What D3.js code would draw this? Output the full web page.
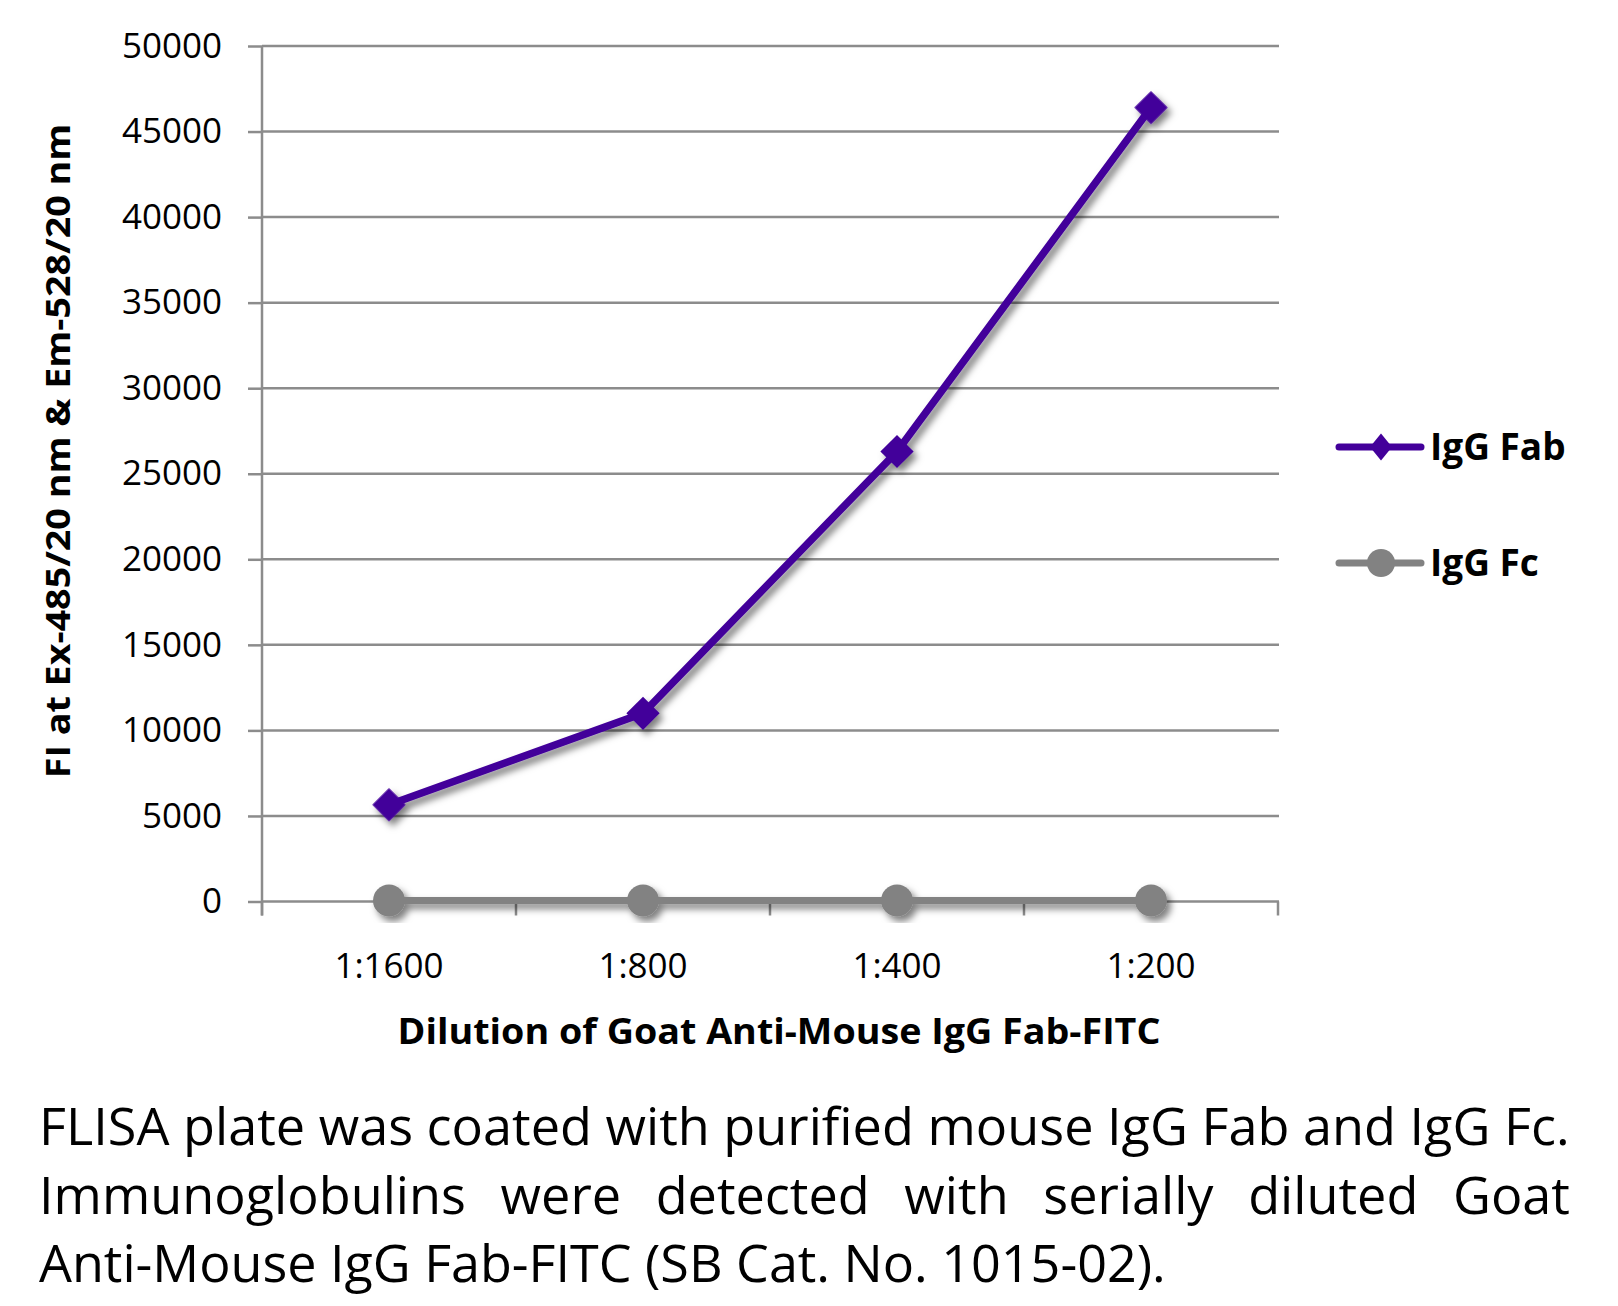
<!DOCTYPE html>
<html><head><meta charset="utf-8">
<script src="https://cdn.jsdelivr.net/npm/d3@7"></script>
<style>body{margin:0;background:#fff;} svg{display:block;} text{font-family:"Open Sans","Noto Sans",sans-serif;}</style>
</head><body>
<svg id="c" width="1618" height="1306"></svg>
<script>
const categories = ["1:1600", "1:800", "1:400", "1:200"];
const fabValues = [5650, 11000, 26300, 46400];
const fcValues = [60, 60, 60, 60];
const yTicks = [0, 5000, 10000, 15000, 20000, 25000, 30000, 35000, 40000, 45000, 50000];
const seriesNames = ["IgG Fab", "IgG Fc"];
const yTitle = "FI at Ex-485/20 nm & Em-528/20 nm";
const xTitle = "Dilution of Goat Anti-Mouse IgG Fab-FITC";
const captionLines = [
  "FLISA plate was coated with purified mouse IgG Fab and IgG Fc.",
  "Immunoglobulins were detected with serially diluted Goat",
  "Anti-Mouse IgG Fab-FITC (SB Cat. No. 1015-02)."
];

const svg = d3.select("#c");
const L = 262, R = 1278, T = 46, B = 901.5;
const x = d3.scaleBand().domain(categories).range([L, R]).padding(0);
const y = d3.scaleLinear().domain([0, 50000]).range([B, T]);
const gridCol = "#8c8c8c";
const fabCol = "#43009a", fcCol = "#828282";

const defs = svg.append("defs");
const f = defs.append("filter").attr("id","sh").attr("x","-20%").attr("y","-20%").attr("width","140%").attr("height","140%");
f.append("feDropShadow").attr("dx",4).attr("dy",5).attr("stdDeviation",3.5).attr("flood-color","#000").attr("flood-opacity",0.5);

// gridlines
svg.append("g").selectAll("line").data(yTicks).join("line")
  .attr("x1", L).attr("x2", R + 1).attr("y1", d => y(d)).attr("y2", d => y(d))
  .attr("stroke", gridCol).attr("stroke-width", 2.5);

// y axis
const ya = svg.append("g").attr("transform", `translate(${L},0)`)
  .call(d3.axisLeft(y).tickValues(yTicks).tickSize(14).tickPadding(26).tickFormat(d3.format("d")));
ya.select(".domain").attr("stroke", gridCol).attr("stroke-width", 2.5).attr("d", `M0,${T}V${B+14}`);
ya.selectAll(".tick line").attr("stroke", gridCol).attr("stroke-width", 2.5);
ya.selectAll(".tick text").attr("font-size", 35).attr("fill", "#000").attr("font-family", "'Open Sans',sans-serif");

// x axis
const xa = svg.append("g").attr("transform", `translate(0,${B})`)
  .call(d3.axisBottom(x).tickSize(0).tickPadding(52));
xa.select(".domain").remove();
xa.selectAll(".tick text").attr("font-size", 35).attr("fill", "#000").attr("font-family", "'Open Sans',sans-serif");
const bounds = categories.map(c => x(c)).concat([R]);
svg.append("g").selectAll("line").data(bounds).join("line")
  .attr("x1", d => d).attr("x2", d => d).attr("y1", B).attr("y2", B + 14)
  .attr("stroke", gridCol).attr("stroke-width", 2.5);

const cx = d => x(d) + x.bandwidth() / 2;
const line = d3.line().x(d => cx(d.c)).y(d => y(d.v));
const fcData = categories.map((c, i) => ({c, v: fcValues[i]}));
const fabData = categories.map((c, i) => ({c, v: fabValues[i]}));

const gFc = svg.append("g").attr("filter", "url(#sh)");
gFc.append("path").datum(fcData).attr("d", line).attr("fill", "none").attr("stroke", fcCol).attr("stroke-width", 7);
gFc.selectAll("circle").data(fcData).join("circle").attr("cx", d => cx(d.c)).attr("cy", d => y(d.v)).attr("r", 16).attr("fill", fcCol);

const gFab = svg.append("g").attr("filter", "url(#sh)");
gFab.append("path").datum(fabData).attr("d", line).attr("fill", "none").attr("stroke", fabCol).attr("stroke-width", 7.5).attr("stroke-linejoin", "round");
gFab.selectAll("path.m").data(fabData).join("path").attr("class", "m")
  .attr("transform", d => `translate(${cx(d.c)},${y(d.v)}) rotate(45)`)
  .attr("d", d3.symbol().type(d3.symbolSquare).size(23.5 * 23.5)).attr("fill", fabCol);

// helper: horizontal compression factor to reach a target width
function fitText(sel, targetW) {
  const w = sel.node().getComputedTextLength();
  return w > 0 ? targetW / w : 1;
}

// axis titles
const yt = svg.append("text").attr("text-anchor", "middle")
  .attr("font-weight", "bold").attr("font-size", 34).text(yTitle);
const ys = fitText(yt, 655);
yt.attr("transform", `translate(70,451) rotate(-90) scale(${ys},1)`);

const xt = svg.append("text").attr("text-anchor", "middle")
  .attr("font-weight", "bold").attr("font-size", 35).text(xTitle);
const xs = fitText(xt, 763);
xt.attr("transform", `translate(779,1044) scale(${xs},1)`);

// legend
const lg = svg.append("g");
const legY = [447, 563];
lg.selectAll("line").data(seriesNames).join("line")
  .attr("x1", 1339).attr("x2", 1421).attr("y1", (d, i) => legY[i]).attr("y2", (d, i) => legY[i])
  .attr("stroke", (d, i) => i ? fcCol : fabCol).attr("stroke-width", 7).attr("stroke-linecap", "round");
lg.append("path").attr("d", "M0,-13.5L11,0L0,13.5L-11,0Z").attr("transform", `translate(1381,${legY[0]})`).attr("fill", fabCol);
lg.append("circle").attr("cx", 1381).attr("cy", legY[1]).attr("r", 14).attr("fill", fcCol);
lg.selectAll("text").data(seriesNames).join("text")
  .attr("x", 1430).attr("y", (d, i) => legY[i] + 13).attr("font-weight", "bold").attr("font-size", 37)
  .text(d => d);

// caption
const capX0 = 39, capX1 = 1570, capBase = [1145, 1214, 1282];
const cap = svg.append("g").attr("font-size", 51).attr("fill", "#000");
const c1 = cap.append("text").text(captionLines[0]);
const s1 = fitText(c1, capX1 - capX0);
c1.attr("transform", `translate(${capX0},${capBase[0]}) scale(${s1},1)`);
// justified line 2: words distributed
const words = captionLines[1].split(" ");
const wt = cap.selectAll("text.w").data(words).join("text").attr("class", "w").text(d => d);
const widths = [];
wt.each(function(){ widths.push(this.getComputedTextLength() * s1); });
const totalW = d3.sum(widths);
const gap = (capX1 - capX0 - totalW) / (words.length - 1);
let cur = capX0;
wt.each(function(d, i){
  d3.select(this).attr("transform", `translate(${cur},${capBase[1]}) scale(${s1},1)`);
  cur += widths[i] + gap;
});
const c3 = cap.append("text").text(captionLines[2]);
const s3 = fitText(c3, 1127);
c3.attr("transform", `translate(${capX0},${capBase[2]}) scale(${s3},1)`);
</script>
</body></html>
